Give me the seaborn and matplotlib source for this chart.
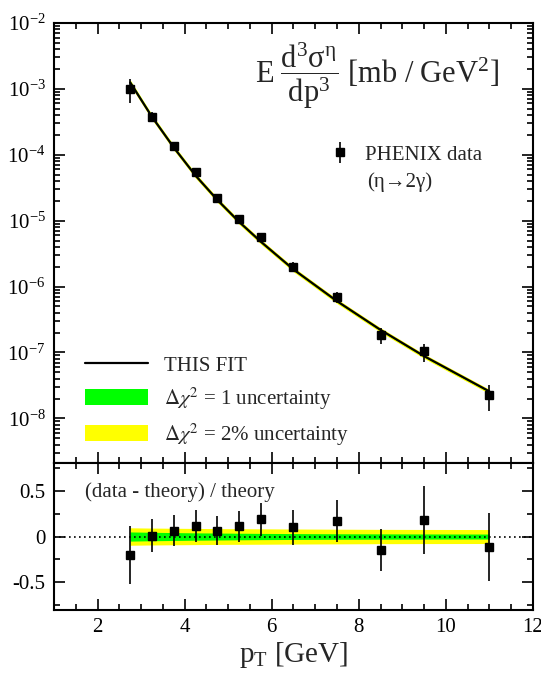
import numpy as np
import pandas as pd
import matplotlib
matplotlib.use("Agg")
import matplotlib.pyplot as plt
import seaborn as sns
from matplotlib.ticker import MultipleLocator, LogLocator, LogFormatterMathtext, NullFormatter
from matplotlib.lines import Line2D
from matplotlib.patches import Patch

# ---------------- data ----------------
pt = [2.75, 3.25, 3.75, 4.25, 4.75, 5.25, 5.75, 6.5, 7.5, 8.5, 9.5, 11.0]
sigma = [1.0e-3, 3.8e-4, 1.37e-4, 5.4e-5, 2.2e-5, 1.07e-5, 5.7e-6, 2.0e-6,
         7.0e-7, 1.87e-7, 1.04e-7, 2.25e-8]
theory = [1.25e-3, 3.76e-4, 1.29e-4, 4.84e-5, 2.07e-5, 9.6e-6, 4.8e-6, 1.82e-6,
          6.0e-7, 2.2e-7, 8.8e-8, 2.56e-8]
ratio = [-0.20, 0.01, 0.065, 0.115, 0.065, 0.11, 0.186, 0.10, 0.17, -0.15, 0.176, -0.118]
ratio_err = [0.32, 0.18, 0.165, 0.17, 0.155, 0.166, 0.18, 0.19, 0.23, 0.23, 0.37, 0.37]
band_2pct = [0.095, 0.092, 0.090, 0.088, 0.086, 0.085, 0.084, 0.082, 0.080, 0.078, 0.077, 0.076]
band_1 = [0.050, 0.046, 0.043, 0.040, 0.038, 0.036, 0.034, 0.032, 0.030, 0.029, 0.028, 0.027]

df = pd.DataFrame({"pt": pt, "sigma": sigma, "theory": theory, "ratio": ratio,
                   "rerr": ratio_err, "y2": band_2pct, "y1": band_1})
df["sigma_err"] = df["rerr"] * df["theory"]

# ---------------- style ----------------
sns.set_theme(style="ticks")
plt.rcParams["font.family"] = ["Liberation Serif", "DejaVu Serif"]
plt.rcParams["mathtext.fontset"] = "stix"
plt.rcParams["axes.unicode_minus"] = False

GREEN = "#00ff00"
YELLOW = "#ffff00"

fig = plt.figure(figsize=(5.41, 6.75), dpi=100)
ax1 = fig.add_axes([0.0998, 0.314, 0.8854, 0.652])
ax2 = fig.add_axes([0.0998, 0.0963, 0.8854, 0.2177], sharex=ax1)

# ---------------- top panel ----------------
ax1.fill_between(df["pt"], df["theory"] * (1 - df["y2"]), df["theory"] * (1 + df["y2"]),
                 color=YELLOW, lw=0, zorder=1)
ax1.fill_between(df["pt"], df["theory"] * (1 - df["y1"]), df["theory"] * (1 + df["y1"]),
                 color=GREEN, lw=0, zorder=2)
sns.lineplot(data=df, x="pt", y="theory", ax=ax1, color="black", lw=1.6, zorder=3,
             legend=False)
eb = ax1.errorbar(df["pt"], df["sigma"], yerr=df["sigma_err"], fmt="s", color="black",
                  ms=6, elinewidth=1.2, capsize=0, zorder=4)

ax1.set_yscale("log")
ax1.set_ylim(2.1e-9, 1e-2)
ax1.set_xlim(1, 12)
ax1.yaxis.set_major_locator(LogLocator(base=10, numticks=20))
ax1.yaxis.set_minor_locator(LogLocator(base=10, subs=np.arange(2, 10), numticks=20))
ax1.yaxis.set_major_formatter(LogFormatterMathtext())
ax1.yaxis.set_minor_formatter(NullFormatter())
ax1.set_xlabel("")
ax1.set_ylabel("")

ax1.text(0.674, 0.88,
         r"$\mathregular{E\ \dfrac{d^3\sigma^{\eta}}{dp^3}\ [mb\ /\ GeV^2]}$",
         transform=ax1.transAxes, ha="center", va="center", fontsize=22)

leg1 = ax1.legend(handles=[Line2D([], [], color="black", lw=1.6),
                           Patch(facecolor=GREEN, edgecolor="none"),
                           Patch(facecolor=YELLOW, edgecolor="none")],
                  labels=["THIS FIT", r"$\Delta\chi^2$ = 1 uncertainty",
                          r"$\Delta\chi^2$ = 2% uncertainty"],
                  loc="lower left", bbox_to_anchor=(0.065, 0.035), frameon=False,
                  fontsize=15, handlelength=3.0, handleheight=0.8, handletextpad=0.8,
                  labelspacing=0.45, borderpad=0, borderaxespad=0)
ax1.add_artist(leg1)
ax1.legend(handles=[eb], labels=["PHENIX data"], loc="center left",
           bbox_to_anchor=(0.576, 0.70), frameon=False, fontsize=15,
           handlelength=1.0, handletextpad=0.7, borderpad=0, borderaxespad=0)
ax1.text(0.653, 0.639, "(η→2γ)", transform=ax1.transAxes, ha="left", va="center",
         fontsize=15)

# ---------------- bottom panel ----------------
ax2.fill_between(df["pt"], -df["y2"], df["y2"], color=YELLOW, lw=0, zorder=1)
ax2.fill_between(df["pt"], -df["y1"], df["y1"], color=GREEN, lw=0, zorder=2)
ax2.axhline(0, color="black", lw=1.2, ls=(0, (1, 2)), zorder=3)
ax2.errorbar(df["pt"], df["ratio"], yerr=df["rerr"], fmt="s", color="black",
             ms=6, elinewidth=1.2, capsize=0, zorder=4)
ax2.set_ylim(-0.8, 0.8)
ax2.yaxis.set_major_locator(MultipleLocator(0.5))
ax2.yaxis.set_minor_locator(MultipleLocator(0.25))
ax2.yaxis.set_major_formatter(matplotlib.ticker.FuncFormatter(
    lambda v, p: "0" if abs(v) < 1e-9 else f"{v:g}"))
ax2.xaxis.set_major_locator(MultipleLocator(2))
ax2.xaxis.set_minor_locator(MultipleLocator(0.5))
ax2.set_xlabel(r"$\mathregular{p_T}$ [GeV]", fontsize=21, labelpad=2)
ax2.set_ylabel("")
ax2.text(0.065, 0.80, "(data - theory) / theory", transform=ax2.transAxes,
         ha="left", va="center", fontsize=15)

for ax in (ax1, ax2):
    for s in ax.spines.values():
        s.set_linewidth(1.5)
        s.set_color("black")
    ax.tick_params(which="both", direction="in", top=True, right=True,
                   width=1.2, colors="black", labelsize=15, pad=6)
    ax.tick_params(which="major", length=8)
    ax.tick_params(which="minor", length=4)
ax1.tick_params(labelbottom=False)

fig.savefig("out.png", dpi=100)
